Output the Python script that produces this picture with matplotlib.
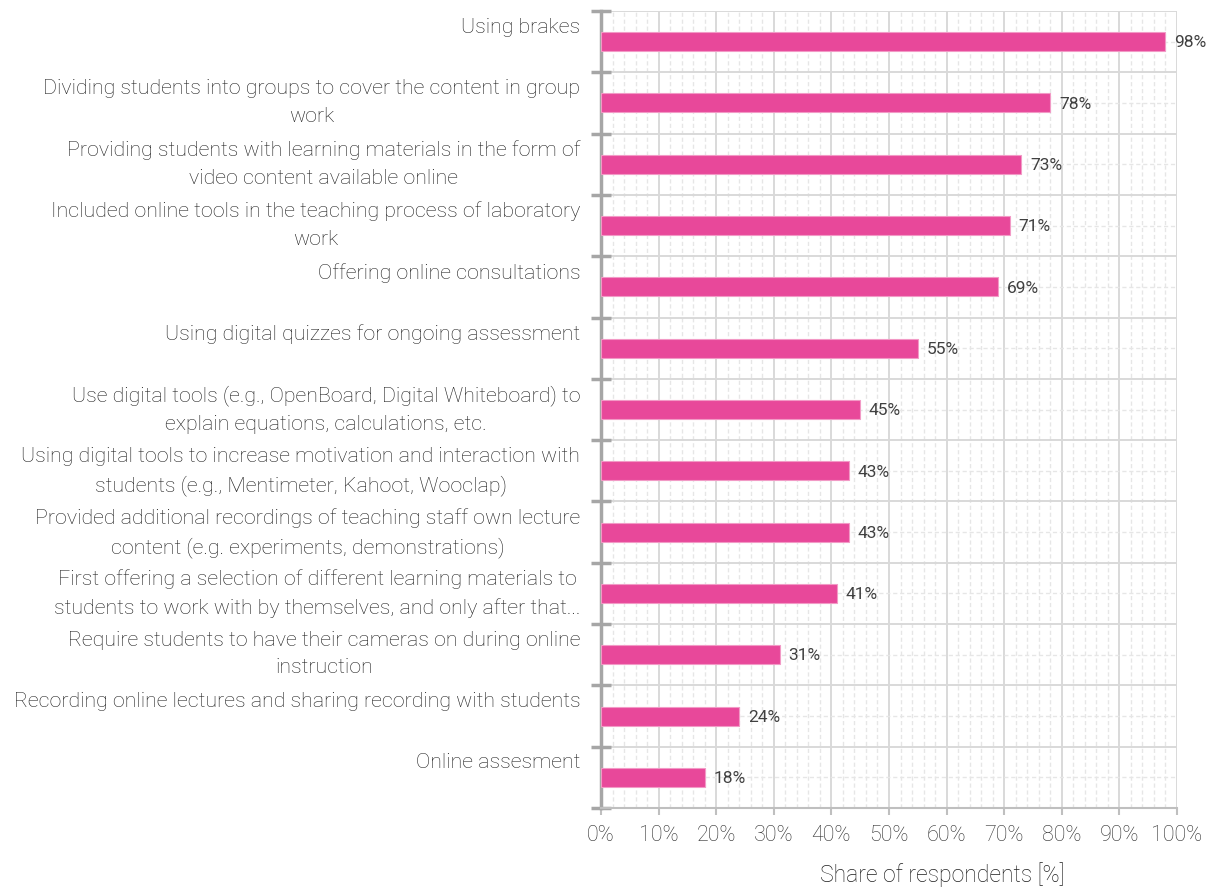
import matplotlib.pyplot as plt
from matplotlib.ticker import MultipleLocator, FixedLocator, PercentFormatter

plt.rcParams['font.family'] = ['Roboto', 'DejaVu Sans']

categories = [
    "Using brakes",
    "Dividing students into groups to cover the content in group\nwork",
    "Providing students with learning materials in the form of\nvideo content available online",
    "Included online tools in the teaching process of laboratory\nwork",
    "Offering online consultations",
    "Using digital quizzes for ongoing assessment",
    "Use digital tools (e.g., OpenBoard, Digital Whiteboard) to\nexplain equations, calculations, etc.",
    "Using digital tools to increase motivation and interaction with\nstudents (e.g., Mentimeter, Kahoot, Wooclap)",
    "Provided additional recordings of teaching staff own lecture\ncontent (e.g. experiments, demonstrations)",
    "First offering a selection of different learning materials to\nstudents to work with by themselves, and only after that...",
    "Require students to have their cameras on during online\ninstruction",
    "Recording online lectures and sharing recording with students",
    "Online assesment",
]
values = [98, 78, 73, 71, 69, 55, 45, 43, 43, 41, 31, 24, 18]

bar_color = "#E8489A"
text_color = "#404040"

fig = plt.figure(figsize=(12.16, 8.88), dpi=100)
ax = fig.add_axes([601 / 1216, 1 - 808 / 888, 576 / 1216, 797 / 888])

n = len(categories)
ypos = list(range(n))
ax.barh(ypos, values, height=0.31, color=bar_color, edgecolor="#F29AC6",
        linewidth=0.8, zorder=3)

# value labels to the right of each bar
for y, v in zip(ypos, values):
    ax.text(v + 1.5, y + 0.02, f"{v}%", va="center", ha="left", fontsize=12.5,
            color=text_color, zorder=4)

# category labels sit near the top of each band, like Excel does
for y, label in zip(ypos, categories):
    ax.text(-0.036, y - 0.5 + 0.11, label, transform=ax.get_yaxis_transform(),
            ha="right", va="top", multialignment="center", fontsize=15.4,
            fontweight="light", color="#1f1f1f", linespacing=1.57)

ax.set_xlim(0, 100)
ax.set_ylim(n - 0.5, -0.5)

ax.xaxis.set_major_locator(MultipleLocator(10))
ax.xaxis.set_minor_locator(MultipleLocator(2))
ax.xaxis.set_major_formatter(PercentFormatter(decimals=0))
ax.yaxis.set_major_locator(FixedLocator([i - 0.5 for i in range(n + 1)]))
ax.yaxis.set_minor_locator(FixedLocator(ypos))
ax.set_yticklabels([])

ax.grid(which="major", color="#D9D9D9", linewidth=1.4, zorder=0)
ax.grid(which="minor", color="#E6E6E6", linewidth=1.0, linestyle=(0, (3, 2)), zorder=0)

for side in ["top", "right"]:
    ax.spines[side].set_visible(False)
ax.spines["left"].set_color("#A6A6A6")
ax.spines["left"].set_linewidth(2.5)
ax.spines["bottom"].set_color("#BFBFBF")
ax.spines["bottom"].set_linewidth(1.5)

ax.tick_params(axis="y", which="major", direction="inout", length=14, width=2.5,
               color="#A6A6A6")
ax.tick_params(axis="y", which="minor", length=0)
ax.tick_params(axis="x", which="major", direction="out", length=5, width=1.5,
               color="#BFBFBF", labelsize=15.5, labelcolor="#2e2e2e", pad=7)
ax.tick_params(axis="x", which="minor", length=0)
for t in ax.get_xticklabels():
    t.set_fontweight("light")

ax.set_xlabel("Share of respondents [%]", fontsize=16.6, color="#1f1f1f",
              fontweight="light")
ax.xaxis.set_label_coords(0.592, -0.084)
ax.xaxis.label.set_va("center")

fig.savefig("out.png", dpi=100)
